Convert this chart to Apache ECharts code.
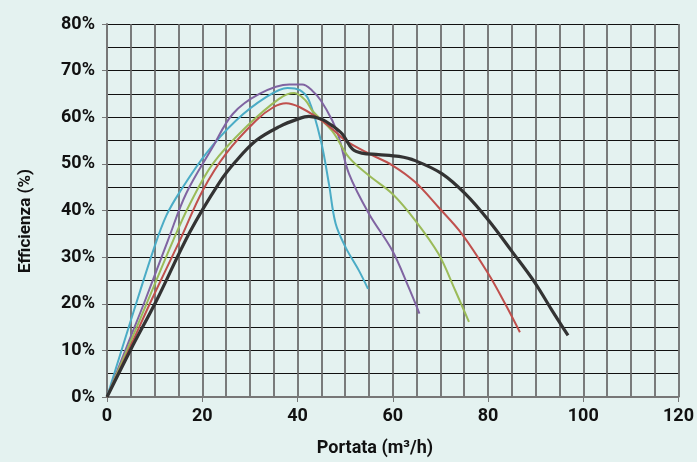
<!DOCTYPE html>
<html><head><meta charset="utf-8">
<script src="https://cdn.jsdelivr.net/npm/echarts@6/dist/echarts.min.js"></script>
<style>html,body{margin:0;padding:0;background:#e4f2f0}#c{width:697px;height:462px}</style>
</head><body><div id="c"></div>
<script>
const xTitle = 'Portata (m³/h)';
const yTitle = 'Efficienza (%)';
const blackCurve = [[0,0],[5,10.2],[10.4,20.7],[17.4,35.4],[23.6,46],[27,50.5],[31.3,55],[36.2,58],[40,59.6],[42.4,60.2],[45,59.6],[47.3,58.2],[49.4,56.4],[51.5,53.2],[53.5,52.3],[57,52],[61.3,51.6],[64.7,50.7],[70.3,47.9],[75.2,43.6],[80.1,37.9],[84.9,31.4],[89.8,24.6],[93.3,18.8],[96.8,13.2]];
const redCurve = [[0,0],[5,11],[9.3,20.7],[15.3,33.6],[20.1,44.3],[25,52.2],[31.3,59.3],[35,62.2],[37.6,63],[40.4,62.2],[44.5,59.7],[47.3,57.5],[50.1,55],[55,52.2],[59.9,49.7],[64.7,46.1],[69.6,40.7],[74.5,35],[80.1,26.4],[83.6,20],[86.7,13.9]];
const greenCurve = [[0,0],[5,12],[8.6,20.7],[13.9,33.6],[17.4,41.4],[22.2,50],[29.2,57.9],[36.2,64],[39.3,65.2],[41.7,63.6],[43.1,61.4],[47.3,57],[50.8,51.4],[55,47.5],[59.9,43.6],[64.7,37.9],[69.6,30.7],[73.1,22.9],[76,16.1]];
const purpleCurve = [[0,0],[5,13],[8,20.7],[12.8,33.6],[16.6,43.6],[22.2,53.6],[26.4,60.7],[32,65],[38.3,67],[41,67],[43.1,65.7],[44.9,63.6],[47.3,59.3],[48.7,55.7],[50.8,47.9],[55,39.3],[59.9,31.4],[63.3,23.6],[65.6,17.9]];
const blueCurve = [[0,0],[5,16.4],[10,32.3],[12.5,39],[15.3,44],[20.8,52.2],[27.1,59.3],[33.4,64.3],[37.9,66.3],[40.5,65.8],[42.4,63.6],[44.9,55],[46.6,45.7],[48,37.2],[50.1,32.1],[52.9,27.1],[54.8,23.2]];
const seriesDefs = [
  {name:'A', data: blueCurve, color:'#4bacc6', w:2},
  {name:'B', data: purpleCurve, color:'#8064a2', w:2},
  {name:'C', data: greenCurve, color:'#9bbb59', w:2},
  {name:'D', data: redCurve, color:'#c0504d', w:2},
  {name:'E', data: blackCurve, color:'#333333', w:3.2}
];
const chart = echarts.init(document.getElementById('c'), null, {renderer:'canvas'});
const font = 'Roboto, "Liberation Sans", Arial, sans-serif';
chart.setOption({
  backgroundColor:'#e4f2f0',
  animation:false,
  grid:{left:107,right:16,top:24,bottom:65,containLabel:false,show:false},
  graphic:[
    {type:'text',x:375,y:448,style:{text:xTitle,fontFamily:font,fontWeight:'bold',fontSize:18,fill:'#111',align:'center',verticalAlign:'middle'}},
    {type:'text',x:26,y:221,rotation:Math.PI/2,style:{text:yTitle,fontFamily:font,fontWeight:'bold',fontSize:17,fill:'#111',align:'center',verticalAlign:'middle'}}
  ],
  xAxis:{type:'value',min:0,max:120,interval:20,
    axisLine:{show:true,lineStyle:{color:'#777',width:2}},
    axisTick:{show:true,length:5,lineStyle:{color:'#777',width:1}},
    axisLabel:{fontFamily:font,fontWeight:'bold',fontSize:18,color:'#111',margin:10},
    splitLine:{show:true,lineStyle:{color:'#666',width:2,opacity:0.85}},
    minorTick:{show:false,splitNumber:4},
    minorSplitLine:{show:true,lineStyle:{color:'#666',width:2,opacity:0.85}}
  },
  yAxis:{type:'value',min:0,max:0.8,interval:0.1,
    axisLine:{show:true,lineStyle:{color:'#777',width:2}},
    axisTick:{show:true,length:5,lineStyle:{color:'#777',width:1}},
    axisLabel:{fontFamily:font,fontWeight:'bold',fontSize:18,color:'#111',margin:12,
      formatter:v=>Math.round(v*100)+'%'},
    splitLine:{show:true,lineStyle:{color:'#111',width:1}},
    minorTick:{show:false,splitNumber:2},
    minorSplitLine:{show:true,lineStyle:{color:'#111',width:1}}
  },
  series: seriesDefs.map(s=>({
    name:s.name,type:'line',smooth:0.35,showSymbol:false,symbol:'none',
    data:s.data.map(p=>[p[0],p[1]/100]),
    lineStyle:{color:s.color,width:s.w},itemStyle:{color:s.color}
  }))
});
</script></body></html>
